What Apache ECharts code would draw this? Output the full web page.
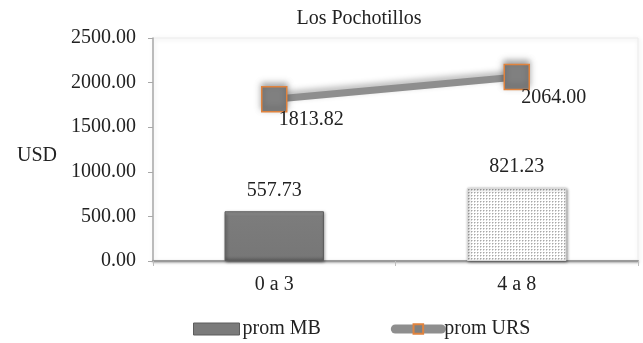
<!DOCTYPE html>
<html lang="es">
<head>
  <meta charset="UTF-8">
  <title>Los Pochotillos</title>
  <script src="https://cdn.jsdelivr.net/npm/echarts@6/dist/echarts.min.js"></script>
  <style>
    html, body { margin: 0; padding: 0; background: #fff; }
    #chart { width: 643px; height: 343px; }
  </style>
</head>
<body>
  <div id="chart"></div>
  <script>
    // datos
    var categorias = ['0 a 3', '4 a 8']
    var promMB = [557.73, 821.23]
    var promURS = [1813.82, 2064.00]
    var ticksY = [0, 500, 1000, 1500, 2000, 2500]

    var serif = '"Liberation Serif", "Times New Roman", serif'
    var fs = 20

    // patrón punteado para la segunda barra
    var pat = document.createElement('canvas')
    pat.width = 3
    pat.height = 3
    var ctx = pat.getContext('2d')
    ctx.fillStyle = '#ffffff'
    ctx.fillRect(0, 0, 3, 3)
    ctx.fillStyle = '#a8a8a8'
    ctx.fillRect(0, 0, 1, 1)
    ctx.fillStyle = '#d4d4d4'
    ctx.fillRect(1, 0, 1, 1)
    ctx.fillRect(0, 1, 1, 1)

    var estilosBarra = [
      {
        color: {
          type: 'linear', x: 0, y: 0, x2: 0, y2: 1,
          colorStops: [
            { offset: 0, color: '#a0a0a0' },
            { offset: 0.1, color: '#7c7c7c' },
            { offset: 0.9, color: '#777777' },
            { offset: 1, color: '#5e5e5e' }
          ]
        },
        borderColor: '#5c5c5c',
        borderWidth: 1,
        shadowBlur: 3,
        shadowOffsetX: 1,
        shadowOffsetY: 1,
        shadowColor: 'rgba(0,0,0,0.45)'
      },
      {
        color: { image: pat, repeat: 'repeat' },
        borderColor: '#d8d8d8',
        borderWidth: 1,
        shadowBlur: 3,
        shadowOffsetX: 1,
        shadowOffsetY: 1,
        shadowColor: 'rgba(0,0,0,0.45)'
      }
    ]

    var datosMB = promMB.map(function (v, i) {
      return { value: v, itemStyle: estilosBarra[i] }
    })

    function txt(extra) {
      var o = { fontFamily: serif, fontSize: fs, color: '#222' }
      for (var k in extra) o[k] = extra[k]
      return o
    }

    var mCharts = echarts.init(document.getElementById('chart'))
    var option = {
      backgroundColor: '#ffffff',
      animation: false,
      textStyle: { fontFamily: serif, color: '#222' },
      title: {
        text: 'Los Pochotillos',
        left: 354,
        textAlign: 'center',
        top: 4,
        textStyle: txt({ fontWeight: 'normal' })
      },
      legend: {
        top: 314,
        left: 188,
        itemWidth: 46,
        itemHeight: 12,
        itemGap: 70,
        textStyle: txt({ padding: [0, 0, 0, -2] }),
        data: [
          {
            name: 'prom MB',
            icon: 'rect',
            itemStyle: {
              color: '#7b7b7b',
              borderColor: '#5c5c5c',
              borderWidth: 1
            },
            textStyle: txt({})
          },
          {
            name: 'prom URS',
            lineStyle: { width: 9, color: '#8e8e8e', cap: 'round' },
            textStyle: txt({})
          }
        ]
      },
      grid: {
        left: 153,
        right: 5,
        top: 38,
        bottom: 82,
        show: true,
        borderColor: '#ececec',
        borderWidth: 1,
        shadowBlur: 4,
        shadowColor: 'rgba(0,0,0,0.15)',
        shadowOffsetX: 1,
        shadowOffsetY: 1
      },
      xAxis: {
        type: 'category',
        data: categorias,
        axisLine: { lineStyle: { color: '#9a9a9a', width: 2, shadowBlur: 2, shadowColor: 'rgba(0,0,0,0.3)', shadowOffsetY: 1 } },
        axisTick: { show: true, length: 5, lineStyle: { color: '#bdbdbd' } },
        axisLabel: txt({ margin: 14 })
      },
      yAxis: {
        type: 'value',
        min: ticksY[0],
        max: ticksY[ticksY.length - 1],
        interval: 500,
        name: 'USD',
        nameLocation: 'middle',
        nameRotate: 0,
        nameGap: 96,
        nameTextStyle: txt({ verticalAlign: 'top', lineHeight: 12 }),
        axisLine: { show: true, lineStyle: { color: '#a8a8a8', width: 1.5 } },
        axisTick: { show: true, length: 5, lineStyle: { color: '#a8a8a8' } },
        splitLine: { show: false },
        axisLabel: txt({
          margin: 17,
          formatter: function (v) { return v.toFixed(2) }
        })
      },
      series: [
        {
          name: 'prom MB',
          type: 'bar',
          barWidth: '41%',
          data: datosMB,
          itemStyle: { color: '#7b7b7b' },
          label: txt({
            show: true,
            position: 'top',
            distance: 11,
            formatter: function (p) { return p.value.toFixed(2) }
          })
        },
        {
          name: 'prom URS',
          type: 'line',
          data: promURS,
          symbol: 'rect',
          symbolSize: 25,
          lineStyle: {
            color: '#8e8e8e',
            width: 7,
            shadowBlur: 6,
            shadowColor: 'rgba(0,0,0,0.3)',
            shadowOffsetY: -3
          },
          itemStyle: {
            color: '#808080',
            borderColor: '#e0833e',
            borderWidth: 1.5,
            shadowBlur: 6,
            shadowColor: 'rgba(0,0,0,0.35)',
            shadowOffsetY: -3
          },
          label: txt({
            show: true,
            position: 'inside',
            offset: [37, 21],
            formatter: function (p) { return p.value.toFixed(2) }
          }),
          z: 3
        }
      ]
    }
    mCharts.setOption(option)
  </script>
</body>
</html>
